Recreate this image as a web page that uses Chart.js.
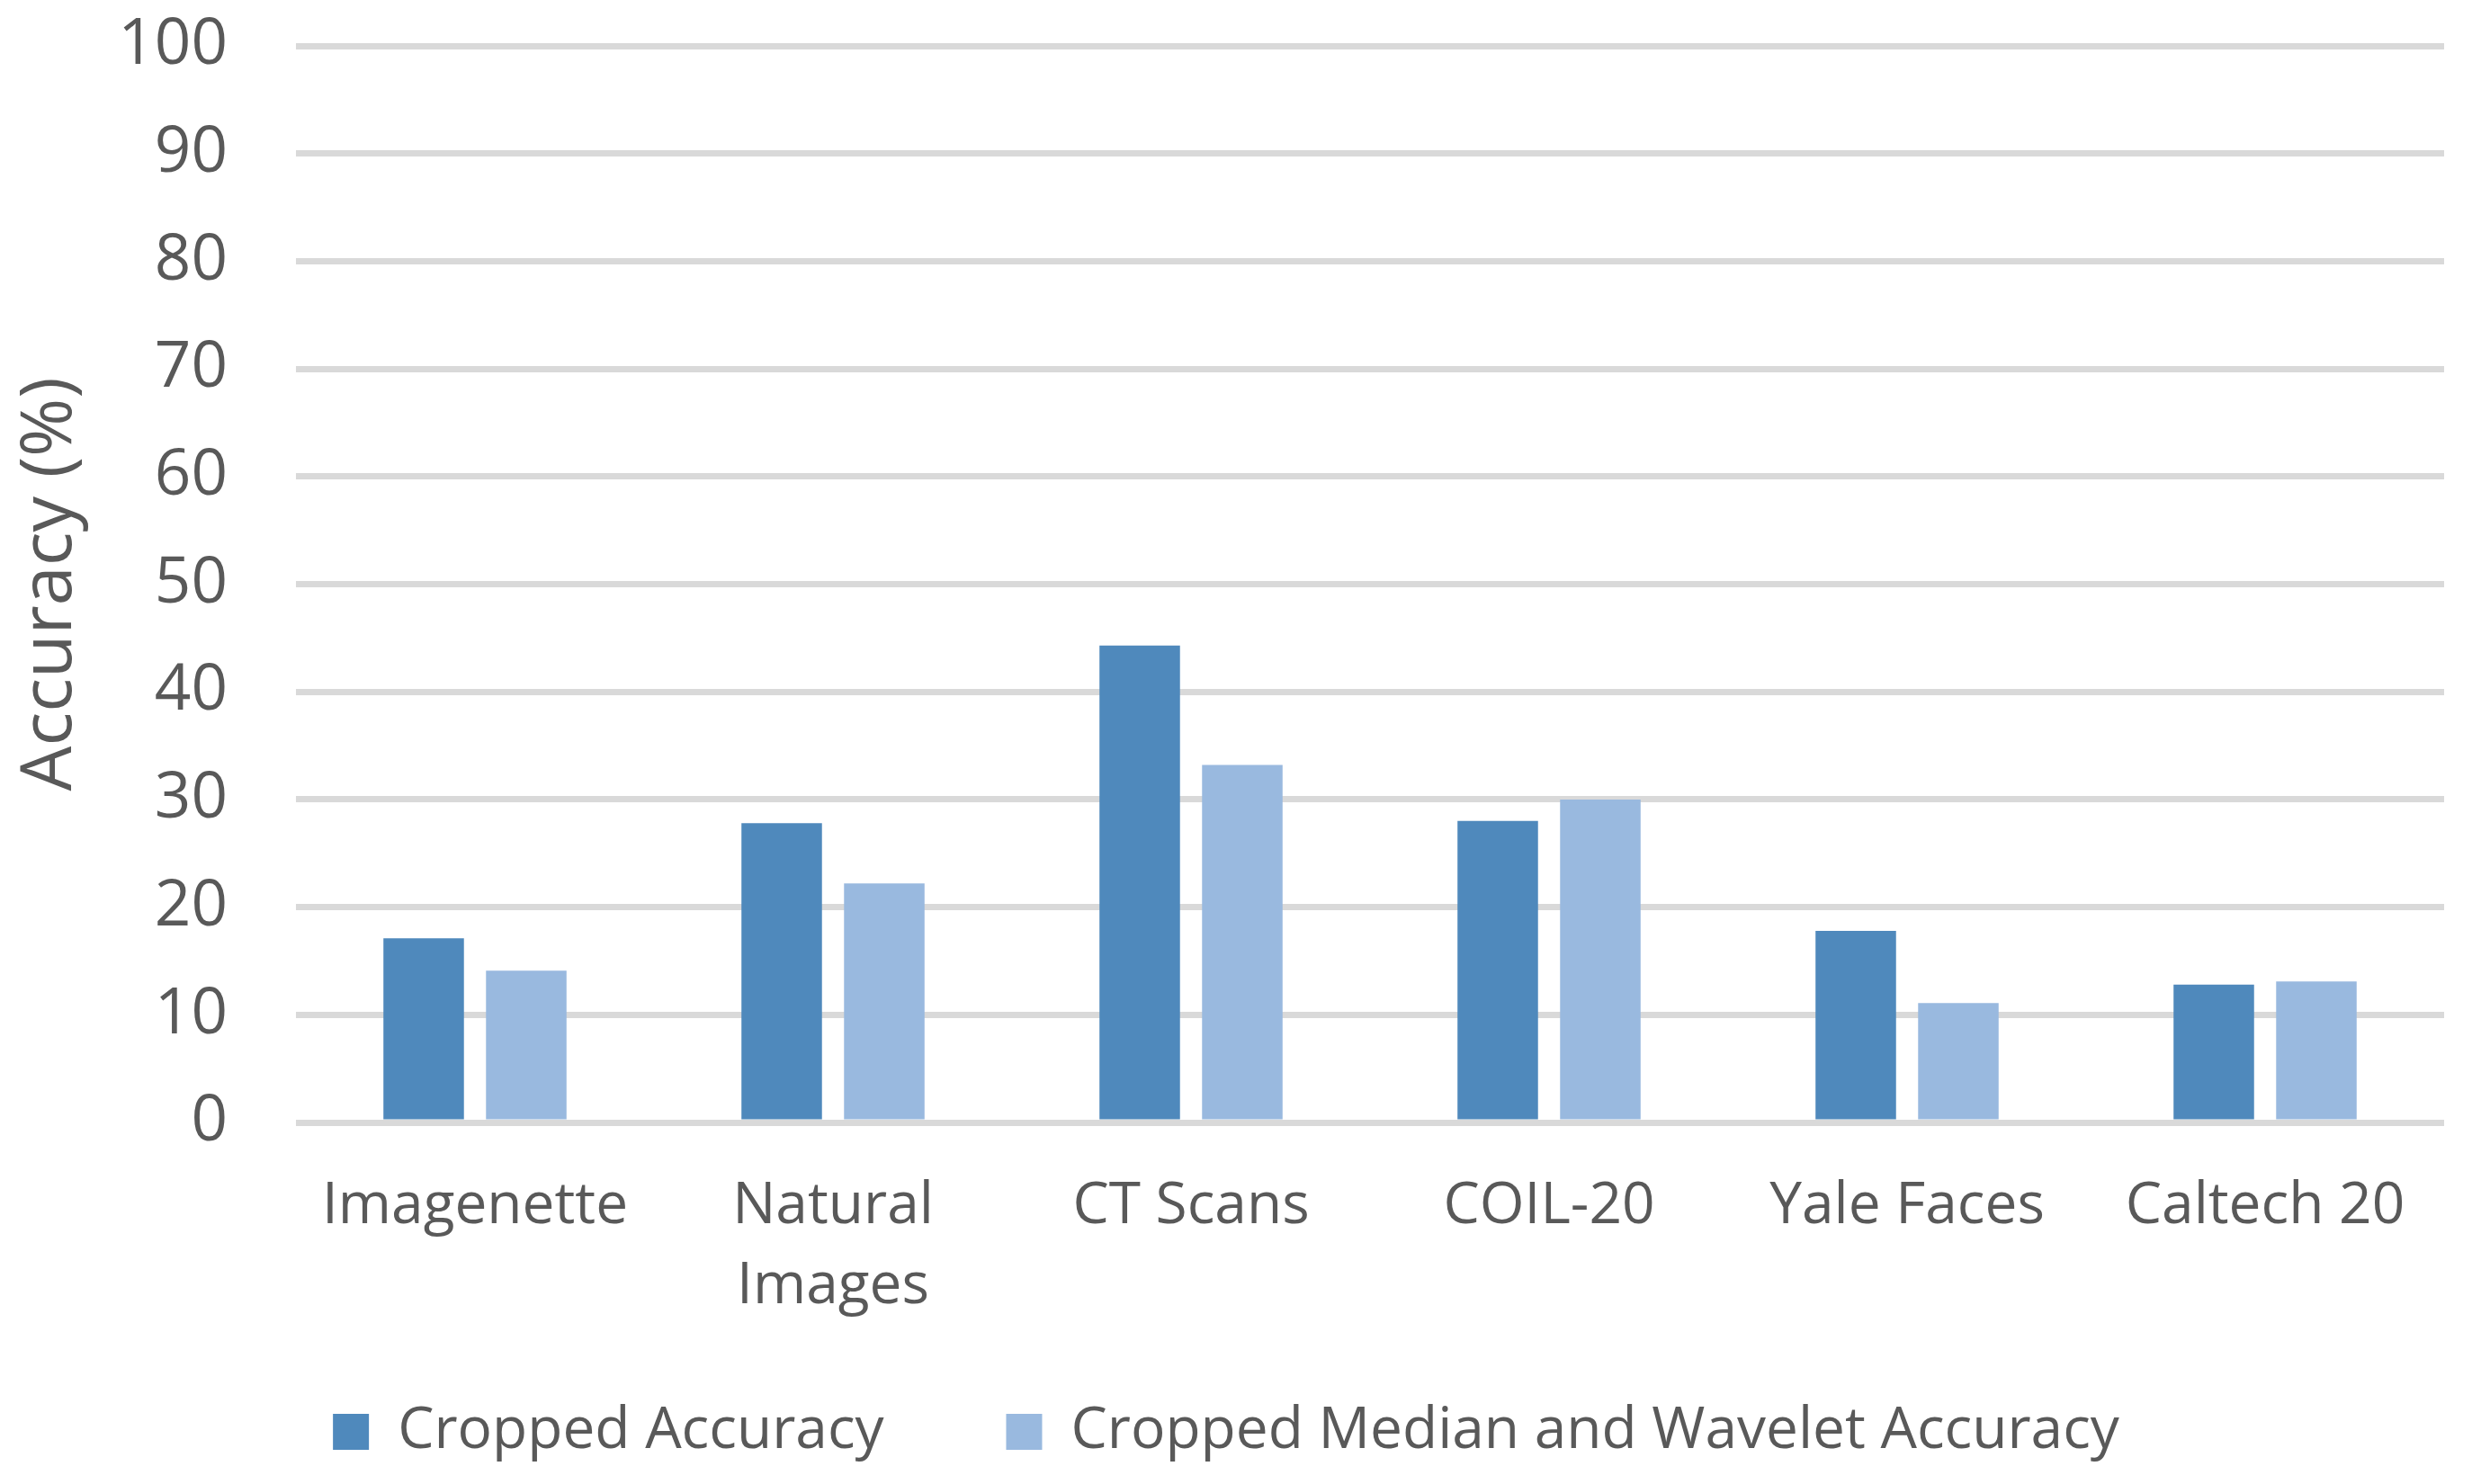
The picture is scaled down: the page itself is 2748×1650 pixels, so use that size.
<!DOCTYPE html>
<html>
<head>
<meta charset="utf-8">
<title>Accuracy by dataset</title>
<script src="https://cdn.jsdelivr.net/npm/chart.js@4/dist/chart.umd.min.js"></script>
<style>
    html, body { margin: 0; padding: 0; background: #ffffff; }
    #wrap { width: 2748px; height: 1650px; position: relative; }
</style>
</head>
<body>
<div id="wrap"><canvas id="accChart"></canvas></div>
<script>
// Data
const categories = ['Imagenette', ['Natural', 'Images'], 'CT Scans', 'COIL-20', 'Yale Faces', 'Caltech 20'];
const croppedAccuracy = [17.1, 27.8, 44.3, 28.0, 17.8, 12.8];
const medianWaveletAccuracy = [14.1, 22.2, 33.2, 30.0, 11.1, 13.1];
const yTicks = [0, 10, 20, 30, 40, 50, 60, 70, 80, 90, 100];

const textColor = '#595959';
const gridColor = '#d9d9d9';
const fontFamily = '"Open Sans", "Noto Sans", sans-serif';

const ctx = document.getElementById('accChart').getContext('2d');
new Chart(ctx, {
    type: 'bar',
    data: {
        labels: categories,
        datasets: [
            {
                label: 'Cropped Accuracy',
                data: croppedAccuracy,
                backgroundColor: '#4f89bc',
                categoryPercentage: 0.573,
                barPercentage: 0.785
            },
            {
                label: 'Cropped Median and Wavelet Accuracy',
                data: medianWaveletAccuracy,
                backgroundColor: '#99b9df',
                categoryPercentage: 0.573,
                barPercentage: 0.785
            }
        ]
    },
    options: {
        responsive: true,
        maintainAspectRatio: false,
        animation: false,
        layout: {
            autoPadding: false,
            padding: { left: 9, right: 31, top: 51, bottom: 16 }
        },
        scales: {
            x: {
                grid: { display: false, drawTicks: false },
                border: { display: false },
                ticks: {
                    color: textColor,
                    padding: 49,
                    maxRotation: 0,
                    autoSkip: false,
                    font: { family: fontFamily, size: 64, lineHeight: 1.39 }
                },
                afterFit: function(scale) {
                    scale.height = 226;
                    scale.paddingLeft = 0;
                    scale.paddingRight = 0;
                }
            },
            y: {
                min: 0,
                max: 100,
                afterBuildTicks: function(scale) {
                    scale.ticks = yTicks.map(v => ({ value: v }));
                },
                afterFit: function(scale) {
                    scale.width = 320;
                    scale.paddingTop = 0;
                    scale.paddingBottom = 0;
                },
                grid: {
                    color: gridColor,
                    lineWidth: 7,
                    drawTicks: false
                },
                border: { display: false },
                ticks: {
                    color: textColor,
                    padding: 76,
                    font: { family: fontFamily, size: 71 }
                },
                title: {
                    display: true,
                    text: 'Accuracy (%)',
                    color: textColor,
                    padding: { top: 0, bottom: 32 },
                    font: { family: fontFamily, size: 79 }
                }
            }
        },
        plugins: {
            legend: {
                position: 'bottom',
                labels: {
                    color: textColor,
                    boxWidth: 40,
                    boxHeight: 40,
                    padding: 86,
                    font: { family: fontFamily, size: 64 },
                    // widen the gap after the first entry, as in the original
                    generateLabels: function(chart) {
                        const items = Chart.defaults.plugins.legend.labels.generateLabels(chart);
                        items[0].text = items[0].text + '   ';
                        return items;
                    }
                }
            },
            tooltip: { enabled: false }
        }
    }
});
</script>
</body>
</html>
